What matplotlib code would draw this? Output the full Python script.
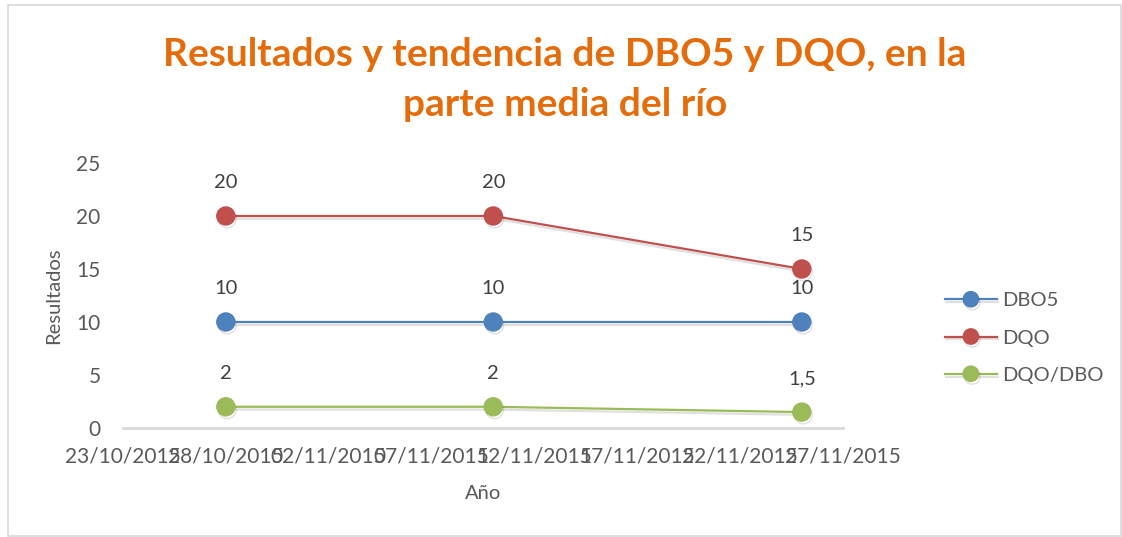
import matplotlib
matplotlib.use("Agg")
import matplotlib.pyplot as plt
import matplotlib.dates as mdates
import matplotlib.patheffects as pe
import pandas as pd

# datos
fechas = pd.to_datetime(["2015-10-28", "2015-11-10", "2015-11-25"])
dbo5 = [10, 10, 10]
dqo = [20, 20, 15]
dqo_dbo = [2, 2, 1.5]
series = [("DBO5", dbo5, "#4F81BD"), ("DQO", dqo, "#C0504D"), ("DQO/DBO", dqo_dbo, "#9BBB59")]
ticks_x = pd.date_range("2015-10-23", "2015-11-27", freq="5D")
ticks_y = [0, 5, 10, 15, 20, 25]

gris = "#595959"
plt.rcParams["font.family"] = ["Lato", "DejaVu Sans"]

fig = plt.figure(figsize=(11.22, 5.37), dpi=100)
ax = fig.add_axes([0.1096, 0.2030, 0.6417, 0.4935])

sombra = [pe.SimpleLineShadow(offset=(1, -2), shadow_color="black", alpha=0.12), pe.Normal()]
for nombre, valores, color in series:
    ax.plot(fechas, valores, color=color, lw=1.6, marker="o", markersize=13,
            label=nombre, path_effects=sombra)
    for f, v in zip(fechas, valores):
        txt = f"{v:g}".replace(".", ",")
        ax.annotate(txt, (f, v), xytext=(0, 24), textcoords="offset points",
                    ha="center", va="center", fontsize=14.5, color="#404040")

ax.set_xlim(ticks_x[0], ticks_x[-1])
ax.set_ylim(0, 25)
ax.set_xticks(ticks_x)
ax.xaxis.set_major_formatter(mdates.DateFormatter("%d/%m/%Y"))
ax.set_yticks(ticks_y)
ax.tick_params(axis="both", length=0, labelsize=15, labelcolor=gris)
ax.tick_params(axis="y", pad=16)
ax.tick_params(axis="x", pad=13)
for s in ["top", "right", "left"]:
    ax.spines[s].set_visible(False)
ax.spines["bottom"].set_color("#D9D9D9")
ax.spines["bottom"].set_linewidth(2)

ax.set_ylabel("Resultados", fontsize=14.5, color=gris, labelpad=10)
ax.set_xlabel("Año", fontsize=14.5, color=gris, labelpad=14)

fig.text(0.5036, 0.852, "Resultados y tendencia de DBO5 y DQO, en la\nparte media del río",
         ha="center", va="center", fontsize=28, fontweight="bold", color="#E46C0A",
         linespacing=1.5)

fig.legend(loc="center left", bbox_to_anchor=(0.833, 1 - 338 / 537), frameon=False,
           fontsize=14.5, labelcolor=gris, handlelength=2.6, handletextpad=0.25,
           labelspacing=1.0, borderpad=0, markerscale=0.85)

borde = plt.Rectangle((8 / 1122, 0.002), 1 - 9 / 1122, 1 - 5 / 537 - 0.002,
                      transform=fig.transFigure, fill=False, ec="#D9D9D9", lw=1.2)
fig.patches.append(borde)

plt.savefig("out.png", dpi=100)
